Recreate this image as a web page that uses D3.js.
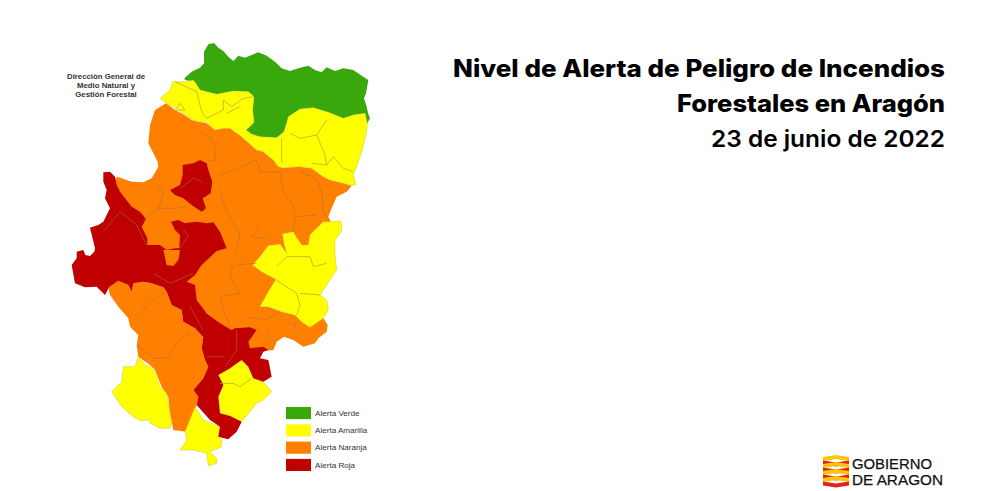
<!DOCTYPE html>
<html><head><meta charset="utf-8">
<script src="https://d3js.org/d3.v7.min.js"></script>
<style>html,body{margin:0;padding:0;background:#fff}svg{display:block}</style></head>
<body><div id="c"></div>
<script>
const titleLines = ["Nivel de Alerta de Peligro de Incendios","Forestales en Aragón","23 de junio de 2022"];
const titleWidths = [492,268,234];
const agencyLines = ["Dirección General de","Medio Natural y","Gestión Forestal"];
const legendLabels = ["Alerta Verde","Alerta Amarilla","Alerta Naranja","Alerta Roja"];
const logoLines = ["GOBIERNO","DE ARAGON"];

// Region outlines, traced in map units
const greenNorth = [[373,130],[395,110],[420,98],[432,85],[432,50],[445,28],[462,24],[475,38],[490,48],[505,65],[520,78],[535,62],[555,68],[575,60],[595,52],[620,62],[645,80],[665,100],[690,108],[715,100],[745,92],[765,105],[785,112],[800,97],[825,108],[850,100],[880,105],[905,122],[925,135],[918,175],[912,190],[920,215],[925,238],[930,250],[922,265],[915,235],[880,240],[850,250],[805,232],[760,218],[720,222],[685,245],[680,265],[672,290],[650,308],[600,305],[575,298],[558,285],[575,270],[582,262],[578,225],[582,185],[565,170],[520,168],[470,178],[420,165],[405,140],[375,135]];
const yellowNorth = [[300,190],[318,175],[330,165],[338,140],[375,140],[400,135],[420,165],[470,178],[520,168],[565,170],[582,185],[578,225],[582,262],[558,285],[575,298],[600,305],[650,308],[672,290],[680,265],[685,245],[720,222],[760,218],[805,232],[850,250],[880,240],[915,235],[922,265],[918,300],[905,350],[890,395],[880,420],[888,450],[870,450],[850,445],[810,435],[790,425],[755,400],[720,395],[670,398],[655,395],[640,375],[610,350],[590,345],[545,305],[510,280],[490,280],[465,285],[440,262],[415,260],[395,252],[370,235],[345,220],[320,205]];
const orangeCentre = [[318,205],[345,225],[370,238],[395,255],[415,260],[440,265],[465,285],[490,280],[510,280],[545,305],[590,345],[610,350],[640,375],[655,395],[670,398],[720,395],[755,400],[790,425],[810,435],[850,445],[875,452],[860,470],[830,485],[815,520],[805,545],[815,565],[790,560],[750,600],[745,630],[725,630],[708,605],[700,590],[668,597],[672,625],[680,655],[660,628],[625,632],[600,665],[578,690],[605,710],[648,733],[625,770],[600,815],[625,815],[665,830],[705,840],[725,860],[750,877],[790,850],[803,870],[800,890],[775,910],[765,925],[730,935],[700,915],[672,905],[650,920],[640,945],[580,950],[400,800],[300,700],[150,450],[172,425],[215,440],[250,442],[275,430],[295,395],[293,380],[265,325],[270,270],[285,225]];
const orangeSouth = [[145,755],[175,737],[205,750],[215,770],[220,745],[250,740],[275,745],[310,757],[320,770],[335,810],[365,825],[370,860],[405,880],[430,907],[425,940],[435,975],[445,995],[430,1030],[400,1065],[415,1085],[410,1110],[380,1190],[340,1185],[330,1135],[325,1085],[305,1055],[285,1005],[270,990],[235,965],[230,930],[235,900],[210,875],[205,850],[175,815],[150,780]];
const orangePocket = [[310,645],[320,690],[340,693],[355,675],[360,645]];
const yellowEast = [[668,597],[700,590],[708,605],[725,630],[745,630],[750,600],[790,560],[843,558],[845,590],[825,615],[825,660],[830,705],[810,735],[780,780],[800,795],[805,825],[790,850],[750,877],[725,860],[705,840],[665,830],[625,815],[600,815],[625,770],[648,733],[605,710],[578,690],[600,665],[625,632],[660,628],[680,655],[672,625]];
const yellowSouthWest = [[235,965],[255,990],[270,995],[285,1010],[300,1055],[320,1075],[330,1135],[335,1160],[330,1180],[300,1180],[270,1165],[268,1155],[240,1157],[220,1145],[185,1115],[155,1070],[185,1040],[190,995],[225,995]];
const yellowSouth = [[405,1115],[430,1155],[480,1175],[475,1205],[485,1215],[485,1235],[450,1250],[470,1270],[470,1285],[445,1293],[440,1255],[400,1245],[360,1245],[380,1215],[375,1190]];
const yellowSouthEast = [[475,1020],[510,1000],[545,975],[565,995],[580,1030],[610,1040],[635,1070],[610,1095],[590,1105],[545,1160],[510,1143],[480,1135],[475,1085],[490,1050]];
const redMain = [[130,412],[150,410],[165,425],[170,450],[180,470],[195,490],[215,515],[240,530],[258,552],[245,575],[262,610],[262,630],[300,630],[320,645],[345,640],[358,640],[360,600],[345,585],[333,560],[355,555],[375,565],[410,560],[440,565],[460,562],[480,590],[500,640],[470,648],[425,690],[405,720],[380,740],[405,750],[410,795],[440,835],[480,865],[515,885],[525,880],[570,877],[590,885],[565,920],[570,940],[610,935],[625,945],[610,950],[600,970],[625,975],[635,1025],[610,1040],[580,1030],[565,995],[545,975],[510,1000],[475,1020],[490,1050],[475,1085],[480,1135],[510,1143],[545,1160],[530,1190],[505,1213],[475,1205],[480,1175],[450,1155],[410,1110],[415,1085],[400,1065],[430,1030],[445,995],[435,975],[425,940],[430,907],[405,880],[370,860],[365,825],[335,810],[320,770],[310,757],[275,745],[250,740],[220,745],[215,770],[205,750],[175,737],[148,755],[135,780],[110,755],[75,757],[45,745],[35,690],[50,670],[50,650],[70,645],[76,660],[90,663],[103,650],[105,640],[90,578],[115,570],[130,560],[150,520],[135,490],[140,465],[130,440]];
const redCentre = [[368,390],[400,385],[420,375],[440,385],[445,405],[457,440],[452,475],[428,490],[438,520],[425,530],[395,510],[370,490],[345,480],[330,465],[360,450],[368,420]];

// Inner district borders
const bordersGrey = [
 [[420,290],[450,305],[465,340],[465,380],[445,375]],
 [[480,420],[530,400],[590,375],[600,410],[660,410],[670,470],[700,510],[705,545],[700,590]],
 [[480,460],[490,500],[500,530],[540,595],[530,650]],
 [[720,410],[770,430],[785,470],[790,530],[800,545]],[[705,545],[770,540]],
 [[290,450],[310,470],[295,520],[250,555]],[[290,520],[350,520],[380,515]],
 [[600,580],[575,605],[620,610]],
 [[520,690],[510,725],[540,775],[480,785],[490,825],[510,875]],[[590,685],[530,690]],
 [[560,845],[620,855],[660,830]],[[620,880],[630,915]],[[700,860],[710,885]],
 [[240,835],[290,785],[320,770]],[[230,930],[280,970],[320,970],[350,925],[390,890]],
 [[130,590],[180,530],[230,570],[260,630]],[[370,585],[385,600],[360,640]],
 [[280,715],[330,745],[400,715]],[[390,815],[430,885]],[[530,885],[530,945],[495,995]],[[440,965],[490,965]],
 [[360,460],[400,430],[425,440]]
];
const bordersOlive = [
 [[690,295],[720,310],[770,300],[800,255]],[[770,300],[795,360],[800,390],[755,385]],[[665,310],[665,385]],
 [[800,390],[820,365],[850,400],[880,410]],
 [[345,140],[410,170],[425,230],[440,250],[490,225],[490,195],[515,215],[550,190],[582,185]],[[500,235],[540,215]],
 [[350,220],[360,205],[375,225],[345,225]],
 [[650,695],[680,665],[750,665],[760,695],[800,685]],[[648,735],[710,775],[720,810],[710,840]],[[720,775],[780,780]],
 [[480,1045],[520,1045],[540,1055],[575,1030]]
];

const legendColors = ["#38a80a","#ffff00","#ff7f00","#c00000"];
const regions = [
 [orangeCentre,2],[orangeSouth,2],[greenNorth,0],[yellowNorth,1],[yellowEast,1],
 [yellowSouthWest,1],[yellowSouth,1],[yellowSouthEast,1],[redMain,3],[redCentre,3],[orangePocket,2]
];

const W = 990, H = 491;
const svg = d3.select("#c").append("svg").attr("width",W).attr("height",H);
const x = d3.scaleLinear().domain([0,960]).range([60,380]);
const y = d3.scaleLinear().domain([0,660]).range([35,255]);
const line = d3.line().x(d=>x(d[0])).y(d=>y(d[1]));

svg.append("defs").append("filter").attr("id","soft").append("feGaussianBlur").attr("stdDeviation",0.35);
const map = svg.append("g").attr("filter","url(#soft)");
map.selectAll("path.r").data(regions).join("path").attr("class","r")
  .attr("d",d=>line(d[0])+"Z").attr("fill",d=>legendColors[d[1]])
  .attr("stroke",d=>d[1]===1?"#b5b530":"none").attr("stroke-width",d=>d[1]===1?0.4:0);
map.selectAll("path.g").data(bordersGrey).join("path").attr("class","g")
  .attr("d",line).attr("fill","none").attr("stroke","#a5733f").attr("stroke-width",0.7).attr("stroke-opacity",0.8);
map.selectAll("path.o").data(bordersOlive).join("path").attr("class","o")
  .attr("d",line).attr("fill","none").attr("stroke","#a8a832").attr("stroke-width",0.7);

svg.append("g").selectAll("text").data(agencyLines).join("text")
  .attr("x",106).attr("y",(d,i)=>79+i*9).attr("text-anchor","middle")
  .attr("font-family","Liberation Sans").attr("font-weight",700).attr("font-size",7.8).attr("fill","#333").text(d=>d);

const lg = d3.scaleBand().domain(legendLabels).range([407,471]).paddingInner(0.3);
svg.append("g").selectAll("rect").data(legendLabels).join("rect")
  .attr("x",286).attr("width",25).attr("y",d=>lg(d)).attr("height",lg.bandwidth())
  .attr("fill",(d,i)=>legendColors[i]);
svg.append("g").selectAll("text").data(legendLabels).join("text")
  .attr("x",315).attr("y",d=>lg(d)+lg.bandwidth()/2+2.8)
  .attr("font-family","Liberation Sans").attr("font-size",8.1).attr("fill","#333").text(d=>d);

svg.append("g").selectAll("text").data(titleLines).join("text")
  .attr("x",945).attr("y",(d,i)=>77+i*35).attr("text-anchor","end")
  .attr("font-family","Inter").attr("font-weight",(d,i)=>i<2?800:600)
  .attr("font-size",(d,i)=>i<2?24:23)
  .attr("textLength",(d,i)=>titleWidths[i]).attr("lengthAdjust","spacingAndGlyphs")
  .attr("fill","#000").text(d=>d);

// Logo: flag stripes
const flagStripes = [0,1,2,3,4,5,6,7];
const fy = d3.scaleBand().domain(flagStripes).range([457,485]);
const flag = svg.append("g");
flag.selectAll("path").data(flagStripes).join("path")
  .attr("d",d=>{const t=fy(d),h=fy.bandwidth(),s=d%2?2:-2;
     return d3.line()([[823,t],[836,t+s],[849,t],[849,t+h+0.6],[836,t+h+s+0.6],[823,t+h+0.6]])+"Z";})
  .attr("fill",d=>d%2?"#e2231a":"#fcc60c");
svg.append("g").selectAll("text").data(logoLines).join("text")
  .attr("x",852).attr("y",(d,i)=>468.5+i*16).attr("font-family","Liberation Sans").attr("font-size",14)
  .attr("textLength",(d,i)=>i?91:80).attr("lengthAdjust","spacingAndGlyphs")
  .attr("fill","#111").attr("stroke","#111").attr("stroke-width",0.25).text(d=>d);
</script></body></html>
